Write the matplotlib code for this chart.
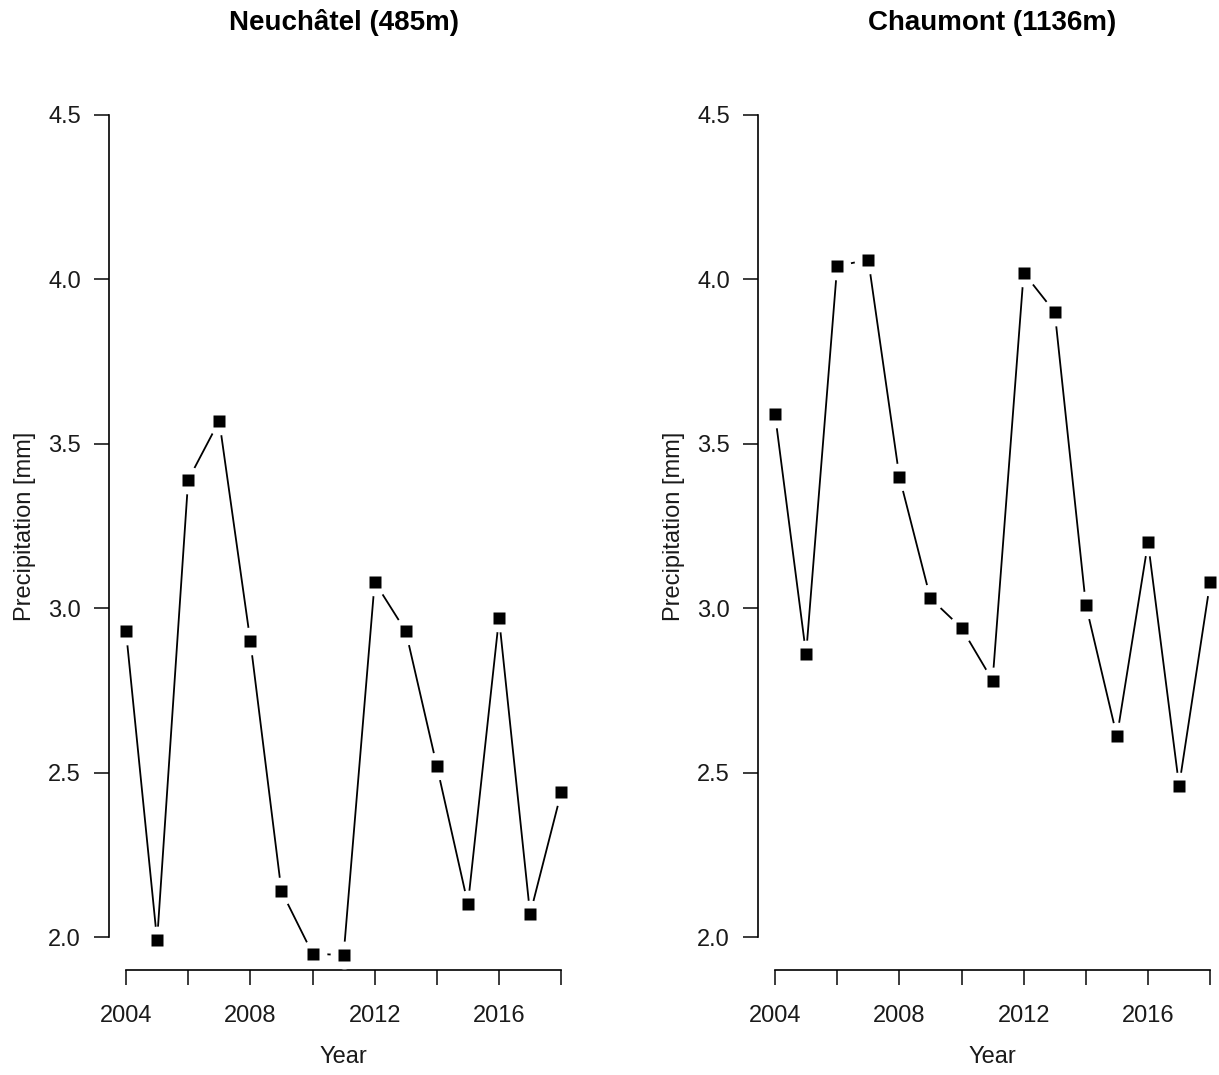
import numpy as np
import matplotlib.pyplot as plt

plt.rcParams['font.family'] = ['Liberation Sans', 'DejaVu Sans']

years = np.arange(2004, 2019)
neuchatel = [2.93, 1.99, 3.39, 3.57, 2.90, 2.14, 1.95, 1.945, 3.08, 2.93,
             2.52, 2.10, 2.97, 2.07, 2.44]
chaumont = [3.59, 2.86, 4.04, 4.06, 3.40, 3.03, 2.94, 2.78, 4.02, 3.90,
            3.01, 2.61, 3.20, 2.46, 3.08]
titles = ["Neuchâtel (485m)", "Chaumont (1136m)"]
series = [neuchatel, chaumont]

W, H = 1219, 1075
fig = plt.figure(figsize=(W / 100, H / 100), dpi=100)

lefts = [108.6, 757.6]
ax_w = 470
ax_bottom = 105
ax_h = 888

for left, title, vals in zip(lefts, titles, series):
    ax = fig.add_axes([left / W, ax_bottom / H, ax_w / W, ax_h / H])
    # type="b" look: line, white gaps, then square points
    ax.plot(years, vals, color='black', lw=1.3, zorder=2)
    ax.plot(years, vals, ls='none', marker='o', ms=20, mfc='white',
            mec='none', zorder=3)
    ax.plot(years, vals, ls='none', marker='s', ms=8, mfc='black',
            mec='none', zorder=4)

    ax.set_xlim(2003.44, 2018.56)
    ax.set_ylim(1.9, 4.6)
    for s in ['top', 'right']:
        ax.spines[s].set_visible(False)
    ax.spines['left'].set_bounds(2.0, 4.5)
    ax.spines['bottom'].set_bounds(2004, 2018)
    for s in ['left', 'bottom']:
        ax.spines[s].set_linewidth(1.2)

    ax.set_xticks(np.arange(2004, 2019, 2))
    ax.set_xticklabels([str(y) if y % 4 == 0 else '' for y in range(2004, 2019, 2)])
    ax.set_yticks([2.0, 2.5, 3.0, 3.5, 4.0, 4.5])
    ax.set_yticklabels(['2.0', '2.5', '3.0', '3.5', '4.0', '4.5'])
    ax.tick_params(axis='x', direction='out', length=11, width=1.2,
                   labelsize=17, pad=14, colors='#1a1a1a')
    ax.tick_params(axis='y', direction='out', length=10.5, width=1.2,
                   labelsize=17, pad=9.5, colors='#1a1a1a')
    ax.set_xlabel('Year', fontsize=17, labelpad=14, color='#1a1a1a')
    ax.set_ylabel('Precipitation [mm]', fontsize=17, labelpad=9, color='#1a1a1a')

    fig.text((left + ax_w / 2) / W, 1 - 23 / H, title, ha='center', va='center',
             fontsize=20, fontweight='bold')

fig.savefig('out.png', dpi=100)
